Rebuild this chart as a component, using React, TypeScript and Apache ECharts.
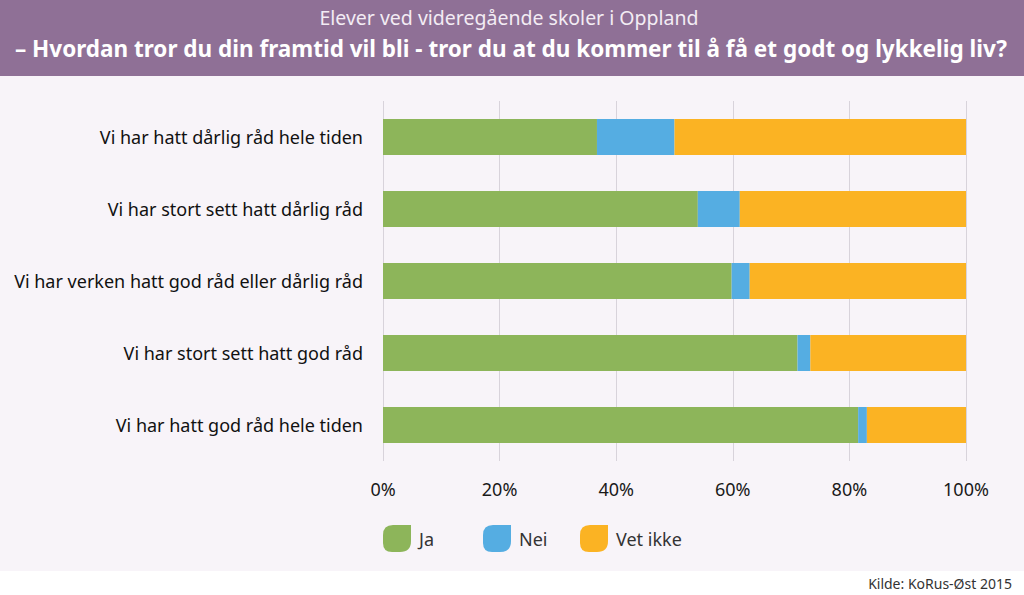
import React, { useEffect, useRef } from "react";
import * as echarts from "echarts";

const categories = [
  "Vi har hatt dårlig råd hele tiden",
  "Vi har stort sett hatt dårlig råd",
  "Vi har verken hatt god råd eller dårlig råd",
  "Vi har stort sett hatt god råd",
  "Vi har hatt god råd hele tiden",
];
const seriesNames = ["Ja", "Nei", "Vet ikke"];
const jaValues = [36.7, 54.0, 59.8, 71.1, 81.5];
const neiValues = [13.3, 7.2, 3.1, 2.2, 1.5];
const vetIkkeValues = [50.0, 38.8, 37.1, 26.7, 17.0];
const xTicks = [0, 20, 40, 60, 80, 100];

const colors = ["#8db55a", "#55ade2", "#fbb323"];
const legendLefts = [383, 483, 580];
const FONT = "'Noto Sans', sans-serif";
const leaf = "path://M10,0 L28,0 L28,16 Q28,27 17,27 L9,27 Q0,27 0,18 L0,10 Q0,0 10,0 Z";

export default function App() {
  const ref = useRef<HTMLDivElement>(null);
  useEffect(() => {
    if (!ref.current) return;
    const chart = echarts.init(ref.current, undefined, { renderer: "svg" });
    const values = [jaValues, neiValues, vetIkkeValues];
    chart.setOption({
      animation: false,
      backgroundColor: "#f8f4f9",
      textStyle: { fontFamily: FONT },
      graphic: [
        { type: "rect", shape: { x: 0, y: 0, width: 1024, height: 76 }, style: { fill: "#8f7096" }, silent: true },
        { type: "rect", shape: { x: 0, y: 571, width: 1024, height: 24 }, style: { fill: "#ffffff" }, silent: true },
        {
          type: "text", x: 509, y: 17,
          style: { text: "Elever ved videregående skoler i Oppland", fill: "#f3ecf4", fontSize: 19.5, fontFamily: FONT, align: "center", verticalAlign: "middle" },
        },
        {
          type: "text", x: 511, y: 48,
          style: { text: "– Hvordan tror du din framtid vil bli - tror du at du kommer til å få et godt og lykkelig liv?", fill: "#ffffff", fontSize: 22.5, fontWeight: "bold", fontFamily: FONT, align: "center", verticalAlign: "middle" },
        },
        {
          type: "text", x: 1012, y: 583,
          style: { text: "Kilde: KoRus-Øst 2015", fill: "#333333", fontSize: 14, fontFamily: FONT, align: "right", verticalAlign: "middle" },
        },
      ],
      grid: { left: 383, right: 58, top: 101, bottom: 134, containLabel: false },
      legend: seriesNames.map((name, i) => ({
        data: [name],
        left: legendLefts[i],
        top: 525,
        padding: 0,
        icon: leaf,
        itemWidth: 28,
        itemHeight: 27,
        textStyle: { fontSize: 18, color: "#333333", fontFamily: FONT, padding: [0, 0, 0, 3] },
      })),
      xAxis: {
        type: "value",
        min: 0,
        max: 100,
        interval: 20,
        axisLabel: { formatter: (v: number) => (xTicks.includes(v) ? v + "%" : ""), fontSize: 18, color: "#1a1a1a", margin: 19, fontFamily: FONT },
        axisLine: { show: false },
        axisTick: { show: false },
        splitLine: { show: true, lineStyle: { color: "#d8d3db", width: 1 } },
      },
      yAxis: {
        type: "category",
        data: categories,
        inverse: true,
        axisLine: { show: false },
        axisTick: { show: false },
        axisLabel: { fontSize: 18, color: "#111111", margin: 20, fontFamily: FONT },
      },
      series: seriesNames.map((name, i) => ({
        name,
        type: "bar",
        stack: "total",
        barWidth: 36,
        itemStyle: { color: colors[i] },
        data: values[i],
      })),
    });
    return () => chart.dispose();
  }, []);
  return <div ref={ref} style={{ position: "fixed", left: 0, top: 0, width: 1024, height: 595 }} />;
}
